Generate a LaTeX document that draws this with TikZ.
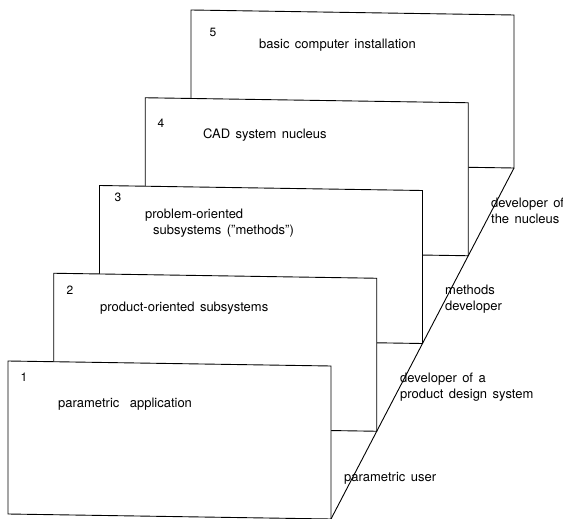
\documentclass[tikz,border=0pt]{standalone}
\usepackage{fontspec}
\setmainfont{TeX Gyre Heros}[WordSpace=1.5]
\usepackage{tikz}
\usetikzlibrary{positioning}

\begin{document}
\begin{tikzpicture}[
    x=1pt, y=-1pt,
    card/.style={draw=black, fill=white, line width=0.9pt, line join=miter},
    floorline/.style={draw=black, line width=0.9pt},
    num/.style={font=\fontsize{12}{14}\selectfont, inner sep=0pt},
    lbl/.style={font=\fontsize{13}{16}\selectfont, anchor=west, inner sep=0pt, align=left},
    role/.style={font=\fontsize{13}{16}\selectfont, anchor=west, inner sep=0pt, align=left}
]
    \useasboundingbox (0,0) rectangle (563,519);
    % sheets, drawn from back to front
    \foreach \k in {5,4,3,2,1} {
        \coordinate (c\k) at ({8+45.75*(\k-1)}, {361-87.75*(\k-1)});
        \filldraw[card] (c\k) -- ++(323,5) -- ++(0,153) -- ++(-323,-5) -- cycle;
        \path (c\k) ++(323,158) coordinate (b\k);
    }
    \draw[floorline] (b1) -- (b5);

    \node[num] (n1) at (24,377) {1};
    \node[lbl] (t1) at (58,404) {parametric\hspace{5pt} application};
    \node[num] (n2) at (70,290) {2};
    \node[lbl] (t2) at (100,308) {product-oriented subsystems};
    \node[num] (n3) at (118,197) {3};
    \node[lbl] (t3) at (145,223) {problem-oriented\\\hspace{8pt}subsystems ("methods")};
    \node[num] (n4) at (161,123) {4};
    \node[lbl] (t4) at (203,135) {CAD system nucleus};
    \node[num] (n5) at (213,32) {5};
    \node[lbl] (t5) at (259,45) {basic computer installation};

    \node[role] (r4) at (491,211) {developer of\\the nucleus};
    \node[role] (r3) at (445,299) {methods\\developer};
    \node[role] (r2) at (400,387) {developer of a\\product design system};
    \node[role] (r1) at (344,478) {parametric user};
\end{tikzpicture}
\end{document}
